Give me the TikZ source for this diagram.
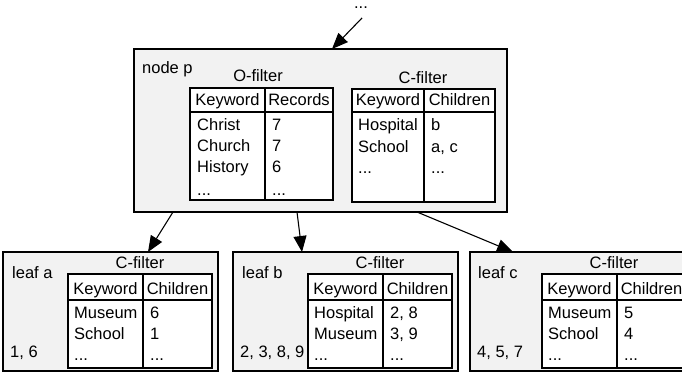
\documentclass[tikz,border=0pt]{standalone}
\usepackage{fontspec}
\setmainfont{Liberation Sans}
\usetikzlibrary{arrows.meta}
\definecolor{boxgray}{RGB}{242,242,242}
\begin{document}
\begin{tikzpicture}[x=1pt,y=-1pt,
  box/.style={draw, line width=1.1pt, fill=boxgray},
  tab/.style={draw, line width=1.1pt, fill=white},
  rule/.style={line width=1.1pt},
  txt/.style={font=\fontsize{16.5}{18}\selectfont, inner sep=0pt, anchor=base west},
  ctxt/.style={txt, anchor=base},
  arr/.style={line width=1.1pt, -{Triangle[length=16pt,width=13pt]}}]
\clip (0,0) rectangle (682,374);

% ---------- inner node p ----------
\draw[box] (134,49) rectangle (507,212);
\node[txt] (plabel) at (142,74) {node p};

% O-filter table
\node[ctxt] (otitle) at (258,82) {O-filter};
\draw[tab] (190,88) rectangle (333,200);
\draw[rule] (190,112) -- (333,112);
\draw[rule] (265,88) -- (265,200);
\node[ctxt] (okh) at (227.5,106) {Keyword};
\node[ctxt] (orh) at (299,106) {Records};
\node[txt] (ok1) at (197,131) {Christ};
\node[txt] (ok2) at (197,152) {Church};
\node[txt] (ok3) at (197,173) {History};
\node[txt] (ok4) at (197,195) {...};
\node[txt] (or1) at (272,131) {7};
\node[txt] (or2) at (272,152) {7};
\node[txt] (or3) at (272,173) {6};
\node[txt] (or4) at (272,195) {...};

% C-filter table of node p
\node[ctxt] (ptitle) at (423,84) {C-filter};
\draw[tab] (352,89) rectangle (495,202);
\draw[rule] (352,112) -- (495,112);
\draw[rule] (424,89) -- (424,202);
\node[ctxt] (pkh) at (388,106) {Keyword};
\node[ctxt] (pch) at (459.5,106) {Children};
\node[txt] (pk1) at (358,131) {Hospital};
\node[txt] (pk2) at (358,153) {School};
\node[txt] (pk3) at (358,174) {...};
\node[txt] (pc1) at (431,131) {b};
\node[txt] (pc2) at (431,153) {a, c};
\node[txt] (pc3) at (431,174) {...};

% ---------- leaf a ----------
\draw[box] (3,252) rectangle (218,371);
\node[txt] (alabel) at (12,278) {leaf a};
\node[txt] (aobj) at (10,357) {1, 6};
\node[ctxt] (atitle) at (140,268) {C-filter};
\draw[tab] (68,274) rectangle (212,368);
\draw[rule] (68,300) -- (212,300);
\draw[rule] (143,274) -- (143,368);
\node[ctxt] (akh) at (105.5,294) {Keyword};
\node[ctxt] (ach) at (177.5,294) {Children};
\node[txt] (ak1) at (74,318) {Museum};
\node[txt] (ak2) at (74,339) {School};
\node[txt] (ak3) at (74,360) {...};
\node[txt] (ac1) at (150,318) {6};
\node[txt] (ac2) at (150,339) {1};
\node[txt] (ac3) at (150,360) {...};

% ---------- leaf b ----------
\draw[box] (233,252) rectangle (458,371);
\node[txt] (blabel) at (242,278) {leaf b};
\node[txt] (bobj) at (240,357) {2, 3, 8, 9};
\node[ctxt] (btitle) at (380,268) {C-filter};
\draw[tab] (308,274) rectangle (452,368);
\draw[rule] (308,300) -- (452,300);
\draw[rule] (383,274) -- (383,368);
\node[ctxt] (bkh) at (345.5,294) {Keyword};
\node[ctxt] (bch) at (417.5,294) {Children};
\node[txt] (bk1) at (314,318) {Hospital};
\node[txt] (bk2) at (314,339) {Museum};
\node[txt] (bk3) at (314,360) {...};
\node[txt] (bc1) at (390,318) {2, 8};
\node[txt] (bc2) at (390,339) {3, 9};
\node[txt] (bc3) at (390,360) {...};

% ---------- leaf c ----------
\draw[box] (470,252) rectangle (700,371);
\node[txt] (clabel) at (478,278) {leaf c};
\node[txt] (cobj) at (477,357) {4, 5, 7};
\node[ctxt] (ctitle) at (614,268) {C-filter};
\draw[tab] (542,274) rectangle (690,368);
\draw[rule] (542,300) -- (690,300);
\draw[rule] (617,274) -- (617,368);
\node[ctxt] (ckh) at (579.5,294) {Keyword};
\node[ctxt] (cch) at (651.5,294) {Children};
\node[txt] (ck1) at (548,318) {Museum};
\node[txt] (ck2) at (548,339) {School};
\node[txt] (ck3) at (548,360) {...};
\node[txt] (cc1) at (624,318) {5};
\node[txt] (cc2) at (624,339) {4};
\node[txt] (cc3) at (624,360) {...};

% ---------- links ----------
\node[ctxt, text height=2pt, text depth=0pt] (dots) at (361,9) {...};
\coordinate (parentend) at (362,18);
\coordinate (pin) at (332,49);
\coordinate (pa) at (173,212);
\coordinate (pb) at (297,212);
\coordinate (pc) at (417,212);
\coordinate (ain) at (148,252);
\coordinate (bin) at (302,252);
\coordinate (cin) at (513,252);
\draw[arr] (parentend) -- (pin);
\draw[arr] (pa) -- (ain);
\draw[arr] (pb) -- (bin);
\draw[arr] (pc) -- (cin);
\end{tikzpicture}
\end{document}
